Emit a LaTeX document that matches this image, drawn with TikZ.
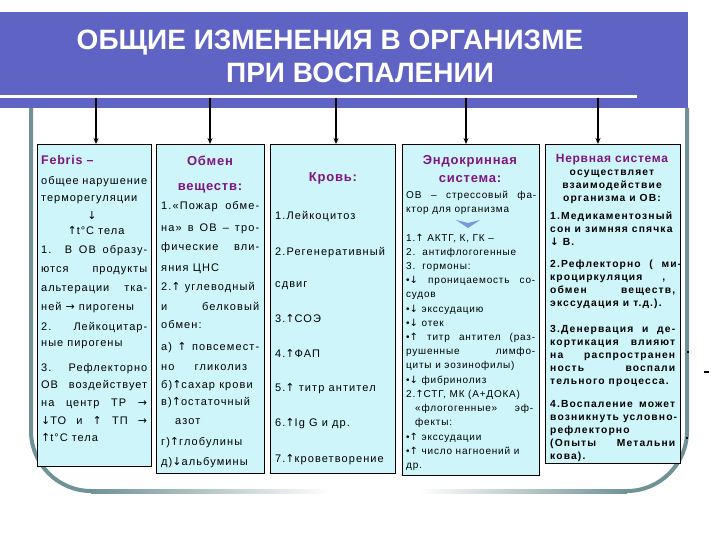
\documentclass[tikz,border=0pt]{standalone}
\usepackage{fontspec}
\setmainfont{Liberation Sans}[LetterSpace=9]
\newfontfamily\fb{Liberation Sans}[LetterSpace=10]
\newfontfamily\fc{Liberation Sans}[LetterSpace=8]
\newfontfamily\fd{Liberation Sans}[LetterSpace=11]
\newfontfamily\hdfont{Liberation Sans}[LetterSpace=6]
\newfontfamily\titlefont{Liberation Sans}
\newfontfamily\arrowfont{DejaVu Sans}
\usetikzlibrary{arrows.meta}
\definecolor{banner}{RGB}{95,99,196}
\definecolor{boxc}{RGB}{206,246,250}
\definecolor{headc}{RGB}{125,20,130}
\definecolor{framec}{RGB}{112,146,150}
\definecolor{tric}{RGB}{120,150,222}
\newcommand\fs[1]{\fontsize{#1}{#1}\selectfont}
\newcommand\JL[2]{\makebox[#1pt][s]{#2}}
\newcommand\UA{{\arrowfont ↑}}
\newcommand\DA{{\arrowfont ↓}}
\newcommand\RA{{\arrowfont →}}
\tikzset{
  box/.style={draw=black, line width=0.8pt, fill=boxc, inner sep=0, anchor=north west},
  tl/.style={anchor=base west, inner sep=0, yshift=-4pt, font=\fs{11}},
  tc/.style={anchor=base, inner sep=0, yshift=-4pt, font=\fs{11}},
  c2/.style={font=\fb\fs{11}},
  c3/.style={font=\fb\fs{11}},
  c4/.style={font=\fc\fs{10}, yshift=0.3pt},
  c5/.style={font=\fd\bfseries\fs{10.3}, yshift=0.3pt},
  hd/.style={anchor=base, inner sep=0, yshift=-4.5pt, text=headc, font=\hdfont\bfseries\fs{13}},
  arr/.style={-{Stealth[length=6pt,width=5pt]}, line width=1.3pt},
  frameline/.style={draw=framec, line width=4pt},
  ttl/.style={anchor=base, inner sep=0, text=white, font=\titlefont\bfseries\fs{28}}
}
\begin{document}
\begin{tikzpicture}[x=1pt,y=-1pt]
\useasboundingbox (0,0) rectangle (720,540);
\fill[white] (0,0) rectangle (720,540);
% frame
\draw[frameline] (31,108) -- (31,431) .. controls (31,464) and (58,491) .. (91,491);
\shade[left color=framec, right color=white] (91,489) rectangle (330,493);
\draw[frameline] (687,108) -- (687,431) .. controls (687,464) and (660,491) .. (627,491);
\shade[left color=white, right color=framec] (420,489) rectangle (627,493);
% banner
\fill[banner] (0,12) rectangle (688,108);
\fill[white] (0,95) rectangle (637,98);
\node[ttl] (title1) at (330,50) {ОБЩИЕ ИЗМЕНЕНИЯ В ОРГАНИЗМЕ};
\node[ttl] (title2) at (360,83) {ПРИ ВОСПАЛЕНИИ};
% boxes
\node[box, minimum width=114pt, minimum height=322pt] (b1) at (37,144) {};
\node[box, minimum width=108pt, minimum height=329pt] (b2) at (156,144) {};
\node[box, minimum width=125pt, minimum height=329pt] (b3) at (270,144) {};
\node[box, minimum width=137pt, minimum height=331pt] (b4) at (402,144) {};
\node[box, minimum width=135pt, minimum height=319pt] (b5) at (545,144) {};
% arrows
\coordinate (s1) at (96,98);
\coordinate (s2) at (210,98);
\coordinate (s3) at (336,98);
\coordinate (s4) at (466,98);
\coordinate (s5) at (598,98);
\foreach \i in {1,...,5} \draw[arr] (s\i) -- (s\i |- b\i.north);
% column 1
\node[hd, anchor=base west, font=\hdfont\bfseries\fs{12.5}] (t1a) at (41,160) {Febris –};
\node[tl] (t1b) at (41,181) {\JL{106}{общее нарушение}};
\node[tl] (t1c) at (41,198) {терморегуляции};
\node[tc] (t1d) at (92,215) {\DA};
\node[tc] (t1e) at (96,231) {\UA{}t°C тела};
\node[tl] (t1f) at (41,249) {\JL{106}{1. В ОВ образу-}};
\node[tl] (t1g) at (41,268) {\JL{106}{ются продукты}};
\node[tl] (t1h) at (41,287) {\JL{106}{альтерации тка-}};
\node[tl] (t1i) at (41,306) {ней \RA{} пирогены};
\node[tl] (t1j) at (41,326) {\JL{106}{2. Лейкоцитар-}};
\node[tl] (t1k) at (41,342) {ные пирогены};
\node[tl] (t1l) at (41,367) {\JL{106}{3. Рефлекторно}};
\node[tl] (t1m) at (41,384) {\JL{106}{ОВ воздействует}};
\node[tl] (t1n) at (41,402) {\JL{106}{на центр ТР \RA}};
\node[tl] (t1o) at (41,420) {\JL{106}{\DA{}ТО и \UA{} ТП \RA}};
\node[tl] (t1p) at (41,437) {\UA{}t°C тела};
% column 2
\node[hd] (t2a) at (210,161) {Обмен};
\node[hd] (t2b) at (210,186) {веществ:};
\node[tl,c2] (t2c) at (161,206) {\JL{98}{1.«Пожар обме-}};
\node[tl,c2] (t2d) at (161,228) {\JL{98}{на» в ОВ – тро-}};
\node[tl,c2] (t2e) at (161,247) {\JL{98}{фические вли-}};
\node[tl,c2] (t2f) at (161,267) {яния ЦНС};
\node[tl,c2] (t2g) at (161,286) {2.\UA{} углеводный};
\node[tl,c2] (t2h) at (161,306) {\JL{98}{и белковый}};
\node[tl,c2] (t2i) at (161,324) {обмен:};
\node[tl,c2] (t2j) at (161,346) {\JL{98}{а) \UA{} повсемест-}};
\node[tl,c2] (t2k) at (161,366) {\JL{86}{но гликолиз}};
\node[tl,c2] (t2l) at (161,384) {б)\UA{}сахар крови};
\node[tl,c2] (t2m) at (161,401) {в)\UA{}остаточный};
\node[tl,c2] (t2n) at (175,420) {азот};
\node[tl,c2] (t2o) at (161,441) {г)\UA{}глобулины};
\node[tl,c2] (t2p) at (161,461) {д)\DA{}альбумины};
% column 3
\node[hd] (t3a) at (333,177) {Кровь:};
\node[tl,c3] (t3b) at (275,215) {1.Лейкоцитоз};
\node[tl,c3] (t3c) at (275,251) {2.Регенеративный};
\node[tl,c3] (t3d) at (275,283) {сдвиг};
\node[tl,c3] (t3e) at (275,318) {3.\UA{}СОЭ};
\node[tl,c3] (t3f) at (275,353) {4.\UA{}ФАП};
\node[tl,c3] (t3g) at (275,387) {5.\UA{} титр антител};
\node[tl,c3] (t3h) at (275,422) {6.\UA{}Ig G и др.};
\node[tl,c3] (t3i) at (275,458) {7.\UA{}кроветворение};
% column 4
\node[hd] (t4a) at (470,160) {Эндокринная};
\node[hd] (t4b) at (470,178) {система:};
\node[tl,c4] (t4c) at (406,195) {\JL{130}{ОВ – стрессовый фа-}};
\node[tl,c4] (t4d) at (406,209) {ктор для организма};
\fill[tric] (456,220) -- (468,223) -- (480,220) -- (468,228) -- cycle;
\node[tl,c4] (t4e) at (406,238) {1.\UA{} АКТГ, К, ГК –};
\node[tl,c4] (t4f) at (406,252) {2.\ \ антифлогогенные};
\node[tl,c4] (t4g) at (406,266) {3.\ \ гормоны:};
\node[tl,c4] (t4h) at (406,280) {\JL{129}{•\DA{} проницаемость со-}};
\node[tl,c4] (t4i) at (406,294) {судов};
\node[tl,c4] (t4j) at (406,309) {•\DA{} экссудацию};
\node[tl,c4] (t4k) at (406,323) {•\DA{} отек};
\node[tl,c4] (t4l) at (406,337) {\JL{129}{•\UA{} титр антител (раз-}};
\node[tl,c4] (t4m) at (406,351) {\JL{129}{рушенные лимфо-}};
\node[tl,c4] (t4n) at (406,365) {циты и эозинофилы)};
\node[tl,c4] (t4o) at (406,380) {•\DA{} фибринолиз};
\node[tl,c4] (t4p) at (406,394) {2.\UA{}СТГ, МК (А+ДОКА)};
\node[tl,c4] (t4q) at (415,408) {\JL{118}{«флогогенные» эф-}};
\node[tl,c4] (t4r) at (415,422) {фекты:};
\node[tl,c4] (t4s) at (406,437) {•\UA{} экссудации};
\node[tl,c4] (t4t) at (406,451) {•\UA{} число нагноений и};
\node[tl,c4] (t4u) at (406,465) {др.};
% column 5
\node[hd, font=\hdfont\bfseries\fs{12}] (t5a) at (612,158) {Нервная система};
\node[tc,c5] (t5b) at (612,172) {осуществляет};
\node[tc,c5] (t5c) at (612,185) {взаимодействие};
\node[tc,c5] (t5d) at (612,198) {организма и ОВ:};
\node[tl,c5] (t5e) at (550,216) {1.Медикаментозный};
\node[tl,c5] (t5f) at (550,229) {сон и зимняя спячка};
\node[tl,c5] (t5g) at (550,242) {\DA{} В.};
\node[tl,c5] (t5h) at (550,264) {\JL{131}{2.Рефлекторно ( ми-}};
\node[tl,c5] (t5i) at (550,277) {\JL{115}{кроциркуляция ,}};
\node[tl,c5] (t5j) at (550,290) {\JL{125}{обмен веществ,}};
\node[tl,c5] (t5k) at (550,303) {экссудация и т.д.).};
\node[tl,c5] (t5l) at (550,329) {\JL{125}{3.Денервация и де-}};
\node[tl,c5] (t5m) at (550,342) {\JL{125}{кортикация влияют}};
\node[tl,c5] (t5n) at (550,355) {\JL{125}{на распространен}};
\node[tl,c5] (t5o) at (550,368) {\JL{125}{ность воспали}};
\node[tl,c5] (t5p) at (550,381) {тельного процесса.};
\node[tl,c5] (t5q) at (550,404) {\JL{125}{4.Воспаление может}};
\node[tl,c5] (t5r) at (550,417) {возникнуть условно-};
\node[tl,c5] (t5s) at (550,430) {рефлекторно};
\node[tl,c5] (t5t) at (550,443) {\JL{125}{(Опыты Метальни}};
\node[tl,c5] (t5u) at (550,456) {кова).};
% stray marks
\fill (687,351) rectangle (689,353);
\fill (704,371) rectangle (709,372.5);
\fill (686,437) rectangle (688,439);
\end{tikzpicture}
\end{document}
